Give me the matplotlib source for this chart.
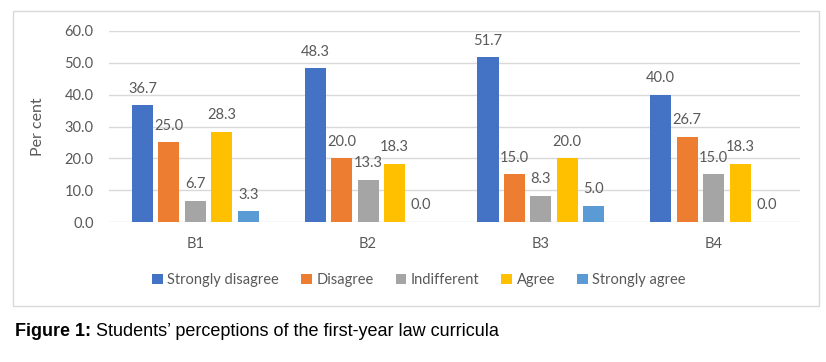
import matplotlib
matplotlib.use("Agg")
import matplotlib.pyplot as plt
import numpy as np
from matplotlib.patches import Rectangle

categories = ["B1", "B2", "B3", "B4"]
series_names = ["Strongly disagree", "Disagree", "Indifferent", "Agree", "Strongly agree"]
strongly_disagree = [36.7, 48.3, 51.7, 40.0]
disagree = [25.0, 20.0, 15.0, 26.7]
indifferent = [6.7, 13.3, 8.3, 15.0]
agree = [28.3, 18.3, 20.0, 18.3]
strongly_agree = [3.3, 0.0, 5.0, 0.0]
yticks = [0, 10, 20, 30, 40, 50, 60]

colors = ["#4472C4", "#ED7D31", "#A5A5A5", "#FFC000", "#5B9BD5"]
txt = "#595959"
grid = "#D9D9D9"

plt.rcParams["font.family"] = ["Lato", "DejaVu Sans"]

fig = plt.figure(figsize=(8.26, 3.62), dpi=100)
ax = fig.add_axes([109 / 826, 1 - 222 / 362, (800 - 109) / 826, (222 - 31) / 362])

x = np.arange(len(categories))
step = 0.153
width = 0.122
values = [strongly_disagree, disagree, indifferent, agree, strongly_agree]
for i, (name, vals) in enumerate(zip(series_names, values)):
    pos = x + (i - 2) * step
    ax.bar(pos, vals, width, color=colors[i], label=name, zorder=3)
    for px, v in zip(pos, vals):
        ax.annotate("%.1f" % v, (px, v), xytext=(0, 12), textcoords="offset points",
                    ha="center", va="center", fontsize=10.5, color=txt)

ax.set_xlim(-0.5, 3.5)
ax.set_ylim(0, 60)
ax.set_yticks(yticks)
ax.set_yticklabels(["%.1f" % t for t in yticks])
ax.set_xticks(x)
ax.set_xticklabels(categories)
ax.tick_params(axis="both", length=0, labelsize=10.5, labelcolor=txt)
ax.tick_params(axis="y", pad=11)
ax.tick_params(axis="x", pad=11)
ax.grid(axis="y", color=grid, linewidth=1, zorder=0)
for s in ax.spines.values():
    s.set_visible(False)
ax.set_ylabel("Per cent", fontsize=11.5, color=txt)
ax.yaxis.set_label_coords(-0.092, 0.5)

fig.legend(loc="center", bbox_to_anchor=(419 / 826, 1 - 280 / 362), ncol=5, frameon=False,
           fontsize=10.5, labelcolor=txt, handlelength=0.75, handleheight=0.75,
           handletextpad=0.3, columnspacing=1.5)

fig.add_artist(Rectangle((13 / 826, 1 - 306 / 362), (819 - 13) / 826, (306 - 11) / 362,
                         transform=fig.transFigure, fill=False, edgecolor=grid, linewidth=1))

t1 = fig.text(15 / 826, 1 - 332 / 362, "Figure 1:", fontsize=13, fontweight="bold",
              family="Liberation Sans", va="center", color="black")
ax.annotate(" Students\u2019 perceptions of the first-year law curricula", xy=(1, 0),
            xycoords=t1, va="bottom", fontsize=13, family="Liberation Sans", color="black",
            annotation_clip=False)

fig.savefig("out.png", dpi=100)
